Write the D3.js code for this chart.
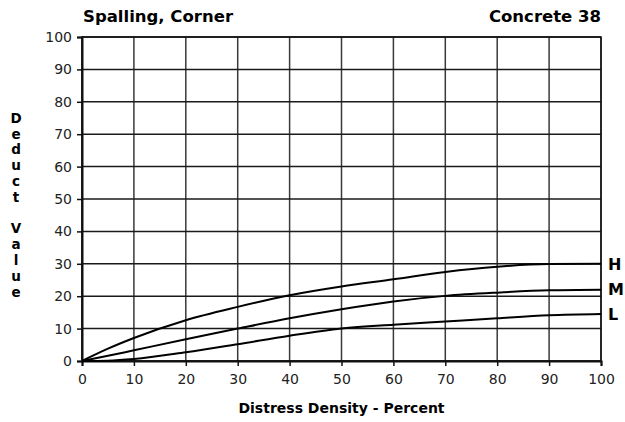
<!DOCTYPE html>
<html>
<head>
<meta charset="utf-8">
<script src="https://cdn.jsdelivr.net/npm/d3@7"></script>
<style>
  html, body { margin: 0; padding: 0; background: #fff; }
  svg { display: block; }
</style>
</head>
<body>
<svg id="chart" width="625" height="422"></svg>
<script>
const title = "Spalling, Corner";
const subtitle = "Concrete 38";
const xLabel = "Distress Density - Percent";
const yLabelText = "Deduct Value";
const xTicks = [0, 10, 20, 30, 40, 50, 60, 70, 80, 90, 100];
const yTicks = [0, 10, 20, 30, 40, 50, 60, 70, 80, 90, 100];

const density = [0, 5, 10, 20, 30, 40, 50, 60, 70, 80, 90, 100];
const highValues = [0, 3.8, 7.1, 12.6, 16.7, 20.3, 23.0, 25.2, 27.5, 29.1, 29.9, 30.0];
const mediumValues = [0, 1.6, 3.3, 6.7, 10.0, 13.2, 16.0, 18.4, 20.1, 21.1, 21.8, 22.0];
const lowValues = [0, 0.1, 0.6, 2.7, 5.2, 7.8, 10.0, 11.2, 12.2, 13.2, 14.1, 14.5];
const seriesNames = ["H", "M", "L"];

const series = [
  { name: seriesNames[0], values: highValues },
  { name: seriesNames[1], values: mediumValues },
  { name: seriesNames[2], values: lowValues }
];

const svg = d3.select("#chart");
const margin = { left: 82, right: 24, top: 37, bottom: 61 };
const W = 625, H = 422;
const x = d3.scaleLinear().domain([0, 100]).range([margin.left, W - margin.right]);
const y = d3.scaleLinear().domain([0, 100]).range([H - margin.bottom, margin.top]);

const font = "'DejaVu Sans', Verdana, sans-serif";

// grid
svg.append("g").selectAll("line.v").data(xTicks).join("line")
  .attr("x1", d => x(d)).attr("x2", d => x(d))
  .attr("y1", y(100)).attr("y2", y(0))
  .attr("stroke", "#3a3a3a").attr("stroke-width", 1.5);
svg.append("g").selectAll("line.h").data(yTicks).join("line")
  .attr("x1", x(0)).attr("x2", x(100))
  .attr("y1", d => y(d)).attr("y2", d => y(d))
  .attr("stroke", "#1a1a1a").attr("stroke-width", 1.5);

// axes
const xAxis = svg.append("g").attr("transform", `translate(0,${y(0)})`)
  .call(d3.axisBottom(x).tickValues(xTicks).tickSize(5).tickPadding(8).tickFormat(d3.format("d")));
const yAxis = svg.append("g").attr("transform", `translate(${x(0)},0)`)
  .call(d3.axisLeft(y).tickValues(yTicks).tickSize(5).tickPadding(5).tickFormat(d3.format("d")));
[xAxis, yAxis].forEach(a => {
  a.select(".domain").attr("stroke", "#111").attr("stroke-width", 2);
  a.selectAll(".tick line").attr("stroke", "#111").attr("stroke-width", 1.5);
  a.selectAll(".tick text").attr("font-family", font).attr("font-size", 14).attr("fill", "#222");
});

// plot border
svg.append("rect").attr("x", x(0)).attr("y", y(100))
  .attr("width", x(100) - x(0)).attr("height", y(0) - y(100))
  .attr("fill", "none").attr("stroke", "#111").attr("stroke-width", 1.5);

// curves
const line = d3.line()
  .x((d, i) => x(density[i]))
  .y(d => y(d))
  .curve(d3.curveMonotoneX);
svg.append("g").selectAll("path").data(series).join("path")
  .attr("d", d => line(d.values))
  .attr("fill", "none").attr("stroke", "#000").attr("stroke-width", 2);

// series labels
svg.append("g").selectAll("text").data(series).join("text")
  .attr("x", x(100) + 7)
  .attr("y", d => y(d.values[d.values.length - 1]))
  .attr("dy", "0.36em")
  .attr("font-family", font).attr("font-weight", "bold").attr("font-size", 16)
  .attr("fill", "#000")
  .text(d => d.name);

// titles
svg.append("text").attr("x", x(0) + 1).attr("y", 22)
  .attr("font-family", font).attr("font-weight", "bold").attr("font-size", 16.5)
  .text(title);
svg.append("text").attr("x", x(100)).attr("y", 22).attr("text-anchor", "end")
  .attr("font-family", font).attr("font-weight", "bold").attr("font-size", 16.5)
  .text(subtitle);

// x label
svg.append("text").attr("x", (x(0) + x(100)) / 2).attr("y", 413)
  .attr("text-anchor", "middle")
  .attr("font-family", font).attr("font-weight", "bold").attr("font-size", 14)
  .text(xLabel);

// y label stacked letters
const letters = yLabelText.split("");
const step = 15.8;
const y0 = 118;
svg.append("g").selectAll("text").data(letters).join("text")
  .attr("x", 16).attr("y", (d, i) => y0 + i * step)
  .attr("dy", "0.36em")
  .attr("text-anchor", "middle")
  .attr("font-family", font).attr("font-weight", "bold").attr("font-size", 13.5)
  .text(d => d);
</script>
</body>
</html>
